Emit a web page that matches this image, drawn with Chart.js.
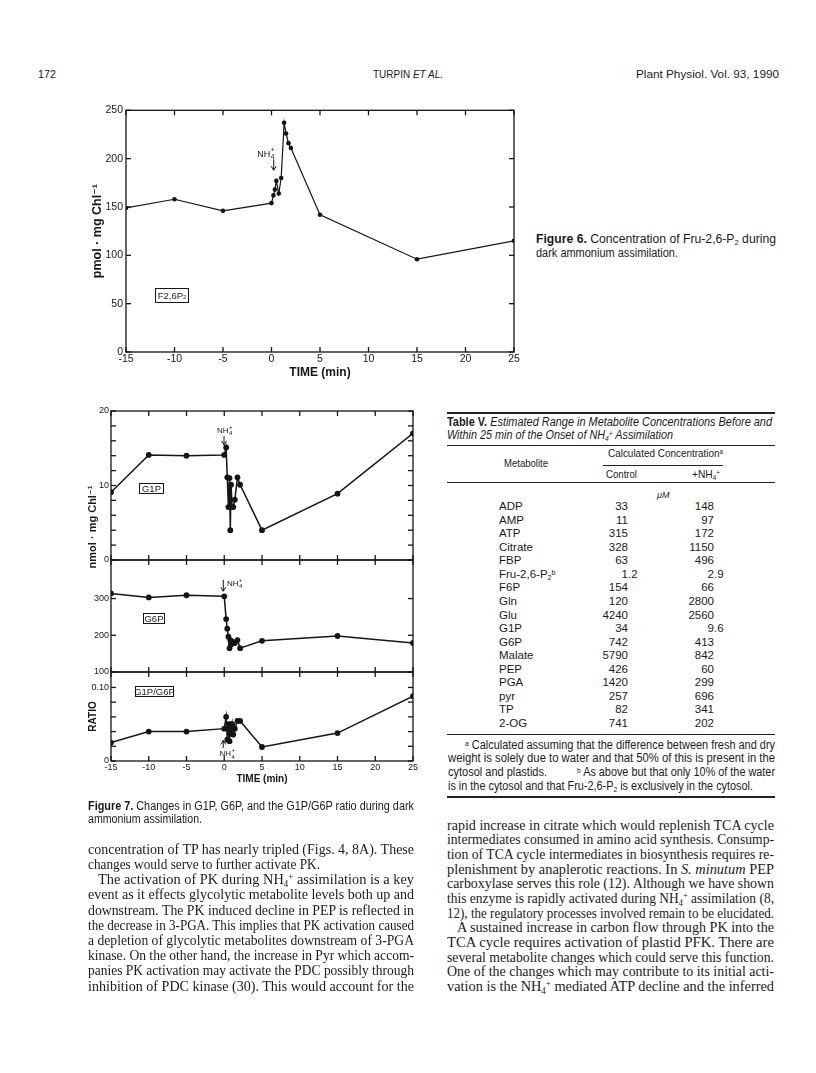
<!DOCTYPE html>
<html>
<head>
<meta charset="utf-8">
<script src="https://cdn.jsdelivr.net/npm/chart.js@4.4.1/dist/chart.umd.min.js"></script>
<style>
  body { margin: 0; background: #fff; }
  #pagina { position: relative; width: 816px; height: 1073px; overflow: hidden; color: #1a1a1a; font-family: "Liberation Sans", Arial, sans-serif; }
  .t { position: absolute; white-space: nowrap; line-height: 1; transform-origin: 0 50%; }
  .serif { font-family: "Liberation Serif", "Times New Roman", serif; font-size: 15px; }
  .sans { font-family: "Liberation Sans", Arial, sans-serif; font-size: 12px; }
  .regla { position: absolute; background: #222; height: 1px; }
  .caja { position: absolute; border: 1.3px solid #151515; box-sizing: border-box; font-size: 9.5px; text-align: center; line-height: 1; display: flex; align-items: center; justify-content: center; }
  canvas { position: absolute; }
  sub, sup { font-size: 0.62em; line-height: 0; position: relative; vertical-align: baseline; }
  sub { top: 0.28em; }
  sup { top: -0.45em; }
</style>
</head>
<body>
<div id="pagina">

  <!-- cabecera -->
  <div class="t sans" style="left:38px;top:69px;font-size:11.5px" data-w="18">172</div>
  <div class="t sans" style="left:373px;top:69px;font-size:11.5px" data-w="70">TURPIN <i>ET AL.</i></div>
  <div class="t sans" style="left:636px;top:69px;font-size:11.5px" data-w="143">Plant Physiol. Vol. 93, 1990</div>

  <!-- Figura 6 -->
  <canvas id="fig6" width="440" height="282" style="left:86px;top:101px"></canvas>
  <div class="caja" style="left:155px;top:288px;width:34px;height:15px">F2,6P<sub>2</sub></div>
  <div class="t sans" style="left:536px;top:233px" data-w="240"><b>Figure 6.</b> Concentration of Fru-2,6-P<sub>2</sub> during</div>
  <div class="t sans" style="left:536px;top:247px" data-w="142">dark ammonium assimilation.</div>

  <!-- Figura 7 -->
  <canvas id="fig7a" width="340" height="165" style="left:83px;top:403px"></canvas>
  <canvas id="fig7b" width="340" height="128" style="left:83px;top:552px"></canvas>
  <canvas id="fig7c" width="340" height="124" style="left:83px;top:664px"></canvas>
  <div style="position:absolute;left:23px;top:520px;width:140px;height:14px;line-height:14px;text-align:center;transform:rotate(-90deg);font:bold 11px 'Liberation Sans','DejaVu Sans',sans-serif;color:#1a1a1a">nmol · mg Chl⁻¹</div>
  <div class="caja" style="left:139px;top:483px;width:25px;height:11px">G1P</div>
  <div class="caja" style="left:143px;top:613px;width:22px;height:11px">G6P</div>
  <div class="caja" style="left:135px;top:686px;width:39px;height:11px">G1P/G6P</div>
  <div class="t sans" style="left:88px;top:800px" data-w="326"><b>Figure 7.</b> Changes in G1P, G6P, and the G1P/G6P ratio during dark</div>
  <div class="t sans" style="left:88px;top:813px" data-w="114">ammonium assimilation.</div>

  <!-- Tabla V -->
  <div class="regla" style="left:447px;top:412px;width:328px;height:1.5px"></div>
  <div class="t sans" style="left:447px;top:416px" data-w="325"><b>Table V.</b> <i>Estimated Range in Metabolite Concentrations Before and</i></div>
  <div class="t sans" style="left:447px;top:429px" data-w="226"><i>Within 25 min of the Onset of NH<sub>4</sub><sup>+</sup> Assimilation</i></div>
  <div class="regla" style="left:447px;top:445px;width:328px"></div>
  <div class="t sans" style="left:608px;top:448px;font-size:11px" data-w="115">Calculated Concentration<sup>a</sup></div>
  <div class="regla" style="left:603px;top:465px;width:120px"></div>
  <div class="t sans" style="left:504px;top:458px;font-size:11px" data-w="44">Metabolite</div>
  <div class="t sans" style="left:606px;top:469px;font-size:11px" data-w="31">Control</div>
  <div class="t sans" style="left:692px;top:469px;font-size:11px" data-w="28">+NH<sub>4</sub><sup>+</sup></div>
  <div class="regla" style="left:447px;top:482px;width:328px"></div>
  <div class="t sans" style="left:657px;top:491px;font-size:9px"><i>μM</i></div>
  <div id="filas"></div>
  <div class="regla" style="left:447px;top:734px;width:328px"></div>
  <div class="t sans" style="left:465px;top:739px" data-w="310"><sup>a</sup> Calculated assuming that the difference between fresh and dry</div>
  <div class="t sans" style="left:448px;top:752px" data-w="327">weight is solely due to water and that 50% of this is present in the</div>
  <div class="t sans" style="left:448px;top:766px" data-w="99">cytosol and plastids.</div>
  <div class="t sans" style="left:577px;top:766px" data-w="198"><sup>b</sup> As above but that only 10% of the water</div>
  <div class="t sans" style="left:448px;top:780px" data-w="305">is in the cytosol and that Fru-2,6-P<sub>2</sub> is exclusively in the cytosol.</div>
  <div class="regla" style="left:447px;top:796px;width:328px;height:1.5px"></div>

  <!-- texto, columna izquierda -->
  <div class="t serif" style="left:88px;top:842px" data-w="326">concentration of TP has nearly tripled (Figs. 4, 8A). These</div>
  <div class="t serif" style="left:88px;top:857px" data-w="232">changes would serve to further activate PK.</div>
  <div class="t serif" style="left:98px;top:872px" data-w="316">The activation of PK during NH<sub>4</sub><sup>+</sup> assimilation is a key</div>
  <div class="t serif" style="left:88px;top:887px" data-w="326">event as it effects glycolytic metabolite levels both up and</div>
  <div class="t serif" style="left:88px;top:903px" data-w="326">downstream. The PK induced decline in PEP is reflected in</div>
  <div class="t serif" style="left:88px;top:918px" data-w="326">the decrease in 3-PGA. This implies that PK activation caused</div>
  <div class="t serif" style="left:88px;top:933px" data-w="326">a depletion of glycolytic metabolites downstream of 3-PGA</div>
  <div class="t serif" style="left:88px;top:948px" data-w="326">kinase. On the other hand, the increase in Pyr which accom-</div>
  <div class="t serif" style="left:88px;top:963px" data-w="326">panies PK activation may activate the PDC possibly through</div>
  <div class="t serif" style="left:88px;top:979px" data-w="326">inhibition of PDC kinase (30). This would account for the</div>

  <!-- texto, columna derecha -->
  <div class="t serif" style="left:447px;top:818px" data-w="327">rapid increase in citrate which would replenish TCA cycle</div>
  <div class="t serif" style="left:447px;top:832px" data-w="327">intermediates consumed in amino acid synthesis. Consump-</div>
  <div class="t serif" style="left:447px;top:847px" data-w="327">tion of TCA cycle intermediates in biosynthesis requires re-</div>
  <div class="t serif" style="left:447px;top:862px" data-w="327">plenishment by anaplerotic reactions. In <i>S. minutum</i> PEP</div>
  <div class="t serif" style="left:447px;top:876px" data-w="327">carboxylase serves this role (12). Although we have shown</div>
  <div class="t serif" style="left:447px;top:891px" data-w="327">this enzyme is rapidly activated during NH<sub>4</sub><sup>+</sup> assimilation (8,</div>
  <div class="t serif" style="left:447px;top:906px" data-w="327">12), the regulatory processes involved remain to be elucidated.</div>
  <div class="t serif" style="left:457px;top:920px" data-w="317">A sustained increase in carbon flow through PK into the</div>
  <div class="t serif" style="left:447px;top:935px" data-w="327">TCA cycle requires activation of plastid PFK. There are</div>
  <div class="t serif" style="left:447px;top:950px" data-w="327">several metabolite changes which could serve this function.</div>
  <div class="t serif" style="left:447px;top:964px" data-w="327">One of the changes which may contribute to its initial acti-</div>
  <div class="t serif" style="left:447px;top:979px" data-w="327">vation is the NH<sub>4</sub><sup>+</sup> mediated ATP decline and the inferred</div>
</div>

<script>
// Figura 6: Fru-2,6-P2 (pmol/mg Chl) frente al tiempo (min)
const tiempoF6 = [-15, -10, -5, 0, 0.2, 0.35, 0.5, 0.75, 1.0, 1.3, 1.5, 1.75, 2.0, 5, 15, 25];
const fru26P2 = [149, 158, 146, 154, 162, 168, 177, 164, 180, 237, 226, 216, 211, 142, 96, 115];

// Figura 7: G1P, G6P y cociente G1P/G6P
const tiempoF7 = [-15, -10, -5, 0, 0.25, 0.4, 0.55, 0.7, 0.8, 0.9, 1.05, 1.2, 1.4, 1.75, 2.1, 5, 15, 25];
const g1p = [9.1, 14.1, 14.0, 14.1, 15.1, 11.1, 7.1, 11.0, 4.0, 10.1, 7.1, 7.1, 8.1, 11.1, 10.1, 4.0, 8.9, 17.0];
const g6p = [314, 303, 309, 306, 244, 218, 196, 165, 187, 175, 183, 179, 179, 187, 165, 185, 198, 179];
const cociente = [0.025, 0.040, 0.040, 0.044, 0.060, 0.029, 0.050, 0.027, 0.050, 0.037, 0.050, 0.036, 0.044, 0.0545, 0.0545, 0.019, 0.038, 0.088];

// marcas de los ejes
const ticksTiempo = [-15, -10, -5, 0, 5, 10, 15, 20, 25];
const ticksF6 = [0, 50, 100, 150, 200, 250];
const ticksG1P = [0, 10, 20];
const menoresG1P = [2, 4, 6, 8, 12, 14, 16, 18];
const ticksG6P = [100, 200, 300];
const ticksCociente = [0, 0.1];
const etiquetasCociente = ["0", "0.10"];
const menoresCociente = [0.02, 0.04, 0.06, 0.08];

// Tabla V
const metabolitos = ["ADP", "AMP", "ATP", "Citrate", "FBP", "Fru-2,6-P<sub>2</sub><sup>b</sup>", "F6P", "Gln", "Glu", "G1P", "G6P", "Malate", "PEP", "PGA", "pyr", "TP", "2-OG"];
const control = ["33", "11", "315", "328", "63", "1.2", "154", "120", "4240", "34", "742", "5790", "426", "1420", "257", "82", "741"];
const conNH4 = ["148", "97", "172", "1150", "496", "2.9", "66", "2800", "2560", "9.6", "413", "842", "60", "299", "696", "341", "202"];

const filas = document.getElementById("filas");
const celda = (html, estilo) => {
  const d = document.createElement("div");
  d.className = "t sans";
  d.style.cssText = estilo;
  d.innerHTML = html;
  filas.appendChild(d);
};
// numeros alineados por el punto decimal
const numero = (valor, borde, top) => {
  const [entero, dec] = valor.split(".");
  celda(entero, `left:${borde - 60}px;width:60px;text-align:right;top:${top}px;font-size:11.5px`);
  if (dec) celda("." + dec, `left:${borde}px;top:${top}px;font-size:11.5px`);
};
metabolitos.forEach((m, i) => {
  const top = 508 + i * 13.54 - 6.8;
  celda(m, `left:499px;top:${top}px;font-size:11.5px`);
  numero(control[i], 628, top);
  numero(conNH4[i], 714, top);
});

// ajustar cada linea de texto a su ancho medido
document.querySelectorAll("[data-w]").forEach((el) => {
  const w = el.getBoundingClientRect().width;
  el.style.transform = `scaleX(${+el.dataset.w / w})`;
});

const TINTA = "#151515";
const FUENTE = "'Liberation Sans', 'DejaVu Sans', sans-serif";

const dibujarNH4 = (ctx, x, y, tam) => {
  ctx.font = `${tam}px ${FUENTE}`;
  ctx.fillText("NH", x, y);
  const w = ctx.measureText("NH").width;
  ctx.font = `${tam * 0.72}px ${FUENTE}`;
  ctx.fillText("4", x + w + 0.5, y + tam * 0.3);
  ctx.fillText("+", x + w + 0.5, y - tam * 0.5);
};

// marco con marcas hacia dentro y anotaciones NH4+
const marco = {
  id: "marco",
  afterDatasetsDraw(chart, args, o) {
    const { ctx, chartArea: a } = chart;
    const x = chart.scales.x;
    const y = chart.scales.y;
    const raya = (x1, y1, x2, y2) => {
      ctx.beginPath();
      ctx.moveTo(x1, y1);
      ctx.lineTo(x2, y2);
      ctx.stroke();
    };
    ctx.save();
    ctx.strokeStyle = TINTA;
    ctx.fillStyle = TINTA;
    ctx.lineWidth = 1.3;
    ctx.strokeRect(a.left, a.top, a.right - a.left, a.bottom - a.top);
    ticksTiempo.forEach((v) => {
      const px = x.getPixelForValue(v);
      raya(px, a.top, px, a.top + o.largo);
      raya(px, a.bottom, px, a.bottom - o.largo);
    });
    o.marcasY.forEach((v) => {
      const py = y.getPixelForValue(v);
      raya(a.left, py, a.left + o.largo, py);
      raya(a.right, py, a.right - o.largo, py);
    });
    (o.notas || []).forEach((n) => {
      const px = x.getPixelForValue(n.x);
      const py = y.getPixelForValue(n.y);
      const s = n.haciaArriba ? 1 : -1; // cola respecto a la punta
      ctx.lineWidth = 1;
      raya(px, py, px, py + s * n.largo);
      raya(px, py, px - 2.5, py + s * 4);
      raya(px, py, px + 2.5, py + s * 4);
      dibujarNH4(ctx, px + n.dx, py + n.dy, n.tam);
    });
    ctx.restore();
  },
};

const serie = (tiempos, valores, radio, grosor) => ({
  data: tiempos.map((t, i) => ({ x: t, y: valores[i] })),
  showLine: true,
  borderColor: TINTA,
  borderWidth: grosor,
  pointRadius: radio,
  pointBackgroundColor: TINTA,
  pointBorderWidth: 0,
  tension: 0,
});

const ejeX = (mostrar, alto, tamTick, tamTitulo, relleno) => ({
  type: "linear",
  display: mostrar,
  min: -15,
  max: 25,
  afterBuildTicks: (s) => {
    s.ticks = ticksTiempo.map((v) => ({ value: v }));
  },
  afterFit: (s) => {
    s.height = alto;
  },
  grid: { display: false, drawTicks: false },
  border: { display: false },
  ticks: { padding: 1, color: TINTA, maxRotation: 0, font: { family: FUENTE, size: tamTick } },
  title: {
    display: true,
    text: "TIME (min)",
    color: TINTA,
    padding: { top: 0, bottom: relleno },
    font: { family: FUENTE, size: tamTitulo, weight: "bold" },
  },
});

const ejeY = (min, max, marcas, etiquetas, ancho, tamTick, relleno, titulo) => ({
  type: "linear",
  min: min,
  max: max,
  afterBuildTicks: (s) => {
    s.ticks = marcas.map((v) => ({ value: v }));
  },
  afterFit: (s) => {
    s.width = ancho;
  },
  grid: { display: false, drawTicks: false },
  border: { display: false },
  ticks: {
    padding: relleno,
    color: TINTA,
    font: { family: FUENTE, size: tamTick },
    callback: (v) => etiquetas[marcas.indexOf(v)],
  },
  title: titulo,
});

const base = (datos, escalas, opcionesMarco, relleno) => ({
  type: "scatter",
  data: { datasets: [datos] },
  options: {
    responsive: false,
    animation: false,
    layout: { padding: relleno },
    plugins: { legend: { display: false }, tooltip: { enabled: false }, marco: opcionesMarco },
    scales: escalas,
  },
  plugins: [marco],
});

// Figura 6
new Chart(document.getElementById("fig6"), base(
  serie(tiempoF6, fru26P2, 2.3, 1.2),
  {
    x: ejeX(true, 31, 10.5, 12, 3),
    y: ejeY(0, 250, ticksF6, ticksF6.map(String), 40, 10.5, 3, {
      display: true,
      text: "pmol · mg Chl⁻¹",
      color: TINTA,
      padding: { top: 4, bottom: 4 },
      font: { family: FUENTE, size: 12.5, weight: "bold" },
    }),
  },
  { largo: 5, marcasY: ticksF6, notas: [{ x: 0.23, y: 188, largo: 11, dx: -16.5, dy: -13.5, tam: 9 }] },
  { top: 8, right: 12, bottom: 0, left: 0 }
));

// Figura 7, panel G1P
new Chart(document.getElementById("fig7a"), base(
  serie(tiempoF7, g1p, 2.9, 1.5),
  {
    x: ejeX(false, 0, 9, 10, 3),
    y: ejeY(0, 20, ticksG1P, ticksG1P.map(String), 28, 9, 2, { display: false }),
  },
  { largo: 5, marcasY: ticksG1P.concat(menoresG1P), notas: [{ x: -0.03, y: 15.45, largo: 9, dx: -7, dy: -12, tam: 8 }] },
  { top: 8, right: 10, bottom: 8, left: 0 }
));

// Figura 7, panel G6P
new Chart(document.getElementById("fig7b"), base(
  serie(tiempoF7, g6p, 2.9, 1.5),
  {
    x: ejeX(false, 0, 9, 10, 3),
    y: ejeY(100, 405, ticksG6P, ticksG6P.map(String), 28, 9, 2, { display: false }),
  },
  { largo: 5, marcasY: ticksG6P, notas: [{ x: -0.13, y: 320, largo: 11.5, dx: 3.7, dy: -5.7, tam: 8 }] },
  { top: 8, right: 10, bottom: 8, left: 0 }
));

// Figura 7, panel cociente
new Chart(document.getElementById("fig7c"), base(
  serie(tiempoF7, cociente, 2.9, 1.5),
  {
    x: ejeX(true, 27, 9, 10, 3),
    y: ejeY(0, 0.121, ticksCociente, etiquetasCociente, 28, 9, 2, {
      display: true,
      text: "RATIO",
      color: TINTA,
      padding: { top: 4, bottom: 4 },
      font: { family: FUENTE, size: 10, weight: "bold" },
    }),
  },
  { largo: 5, marcasY: ticksCociente.concat(menoresCociente), notas: [{ x: -0.13, y: 0.028, largo: 7.5, dx: -3.7, dy: 16, tam: 8, haciaArriba: true }] },
  { top: 8, right: 10, bottom: 0, left: 0 }
));
</script>
</body>
</html>
